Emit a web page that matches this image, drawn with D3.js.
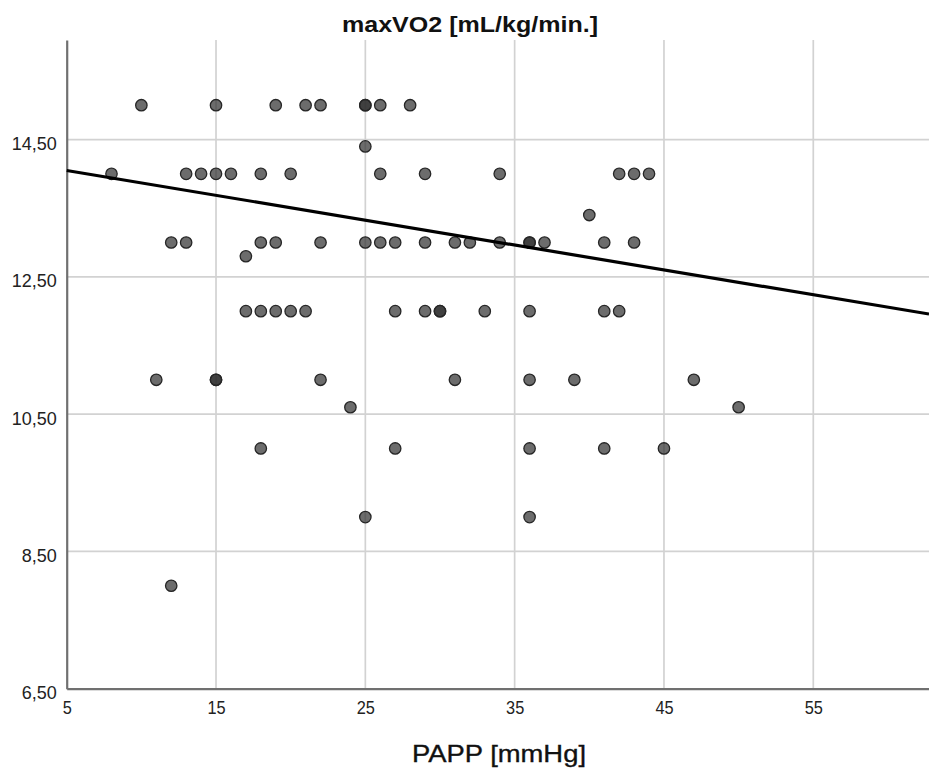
<!DOCTYPE html>
<html>
<head>
<meta charset="utf-8">
<script src="https://cdn.jsdelivr.net/npm/d3@7/dist/d3.min.js"></script>
<style>
  html, body { margin: 0; padding: 0; background: #fff; }
  svg { display: block; font-family: "Liberation Sans", Arial, sans-serif; }
</style>
</head>
<body>
<svg id="chart" width="929" height="769"></svg>
<script>
// ---- data ----
const papp = [
  10,15,19,21,22,25,25,26,28,
  25,
  8,13,14,15,16,18,20,26,29,34,42,43,44,
  40,
  12,13,18,19,22,25,26,27,29,31,32,34,36,36,37,41,43,
  17,
  17,18,19,20,21,27,29,30,30,33,36,41,42,
  11,15,15,22,31,36,39,47,
  24,50,
  18,27,36,41,45,
  25,36,
  12
];
const maxVO2 = [
  15,15,15,15,15,15,15,15,15,
  14.4,
  14,14,14,14,14,14,14,14,14,14,14,14,14,
  13.4,
  13,13,13,13,13,13,13,13,13,13,13,13,13,13,13,13,13,
  12.8,
  12,12,12,12,12,12,12,12,12,12,12,12,12,
  11,11,11,11,11,11,11,11,
  10.6,10.6,
  10,10,10,10,10,
  9,9,
  8
];
const xTicks = [5, 15, 25, 35, 45, 55];
const yTicks = [6.5, 8.5, 10.5, 12.5, 14.5];
const fitLine = { intercept: 14.23, slope: -0.0362 };   // linear fit line
const titleText = "maxVO2 [mL/kg/min.]";
const xLabel = "PAPP [mmHg]";

// ---- layout ----
const svg = d3.select("#chart");
const plotL = 66.7, plotR = 929, plotT = 40, plotB = 688.7;
const x = d3.scaleLinear().domain([5, 62.75]).range([plotL, plotR]);
const y = d3.scaleLinear().domain([6.5, 15.95]).range([plotB, plotT]);
const fmt = v => d3.format(".2f")(v).replace(".", ",");

// gridlines
svg.append("g").selectAll("line")
  .data(xTicks.filter(t => t > 5)).join("line")
  .attr("x1", d => x(d)).attr("x2", d => x(d))
  .attr("y1", plotT).attr("y2", plotB)
  .attr("stroke", "#d2d2d2").attr("stroke-width", 1.7);
svg.append("g").selectAll("line")
  .data(yTicks.filter(t => t > 6.5)).join("line")
  .attr("x1", plotL).attr("x2", plotR)
  .attr("y1", d => y(d)).attr("y2", d => y(d))
  .attr("stroke", "#d2d2d2").attr("stroke-width", 1.7);

// axes (spines + labels)
const yAxis = d3.axisLeft(y).tickValues(yTicks).tickFormat(fmt).tickSize(0).tickPadding(10);
const gy = svg.append("g").attr("transform", `translate(${plotL},0)`).call(yAxis);
gy.select(".domain").attr("stroke", "#707070").attr("stroke-width", 2.2);
gy.selectAll("text").attr("font-size", 18).attr("fill", "#222").attr("dy", "0.55em")
  .attr("font-family", "Liberation Sans, Arial, sans-serif");

const xAxis = d3.axisBottom(x).tickValues(xTicks).tickFormat(d3.format("d")).tickSize(0).tickPadding(12);
const gx = svg.append("g").attr("transform", `translate(0,${plotB})`).call(xAxis);
gx.select(".domain").attr("stroke", "#707070").attr("stroke-width", 2.2);
gx.selectAll("text").attr("font-size", 19).attr("fill", "#222")
  .attr("transform", "scale(0.86,1)")
  .attr("font-family", "Liberation Sans, Arial, sans-serif");

// points
svg.append("g").selectAll("circle")
  .data(papp.map((p, i) => [p, maxVO2[i]])).join("circle")
  .attr("cx", d => x(d[0])).attr("cy", d => y(d[1]))
  .attr("r", 5.7)
  .attr("fill", "rgba(45,45,45,0.7)")
  .attr("stroke", "#262626").attr("stroke-width", 1.3);

// fit line
const xd = x.domain();
svg.append("line")
  .attr("x1", x(xd[0])).attr("y1", y(fitLine.intercept + fitLine.slope * xd[0]))
  .attr("x2", x(xd[1])).attr("y2", y(fitLine.intercept + fitLine.slope * xd[1]))
  .attr("stroke", "#000").attr("stroke-width", 3.2);

// title
svg.append("text")
  .attr("x", 470).attr("y", 32)
  .attr("text-anchor", "middle")
  .attr("font-size", 22).attr("font-weight", "bold").attr("fill", "#111")
  .attr("textLength", 256).attr("lengthAdjust", "spacingAndGlyphs")
  .text(titleText);

// x axis label
svg.append("text")
  .attr("x", 499).attr("y", 762)
  .attr("text-anchor", "middle")
  .attr("font-size", 24.5).attr("fill", "#111")
  .attr("textLength", 174).attr("lengthAdjust", "spacingAndGlyphs")
  .attr("stroke", "#111").attr("stroke-width", 0.35)
  .text(xLabel);
</script>
</body>
</html>
